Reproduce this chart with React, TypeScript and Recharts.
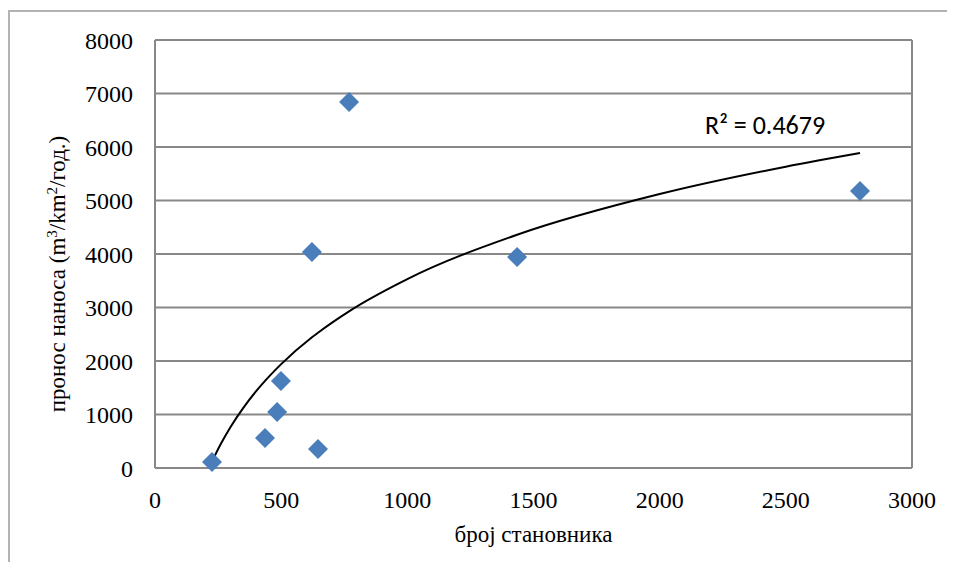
import { CartesianGrid, ComposedChart, Line, ReferenceDot, ReferenceLine, Scatter, XAxis, YAxis } from 'recharts';

// број становника vs пронос наноса
const population = [226, 436, 484, 499, 622, 646, 769, 1435, 2794];
const sediment = [112, 561, 1047, 1626, 4037, 355, 6841, 3944, 5178];
const xTicks = [0, 500, 1000, 1500, 2000, 2500, 3000];
const yTicks = [0, 1000, 2000, 3000, 4000, 5000, 6000, 7000, 8000];
const r2Label = 'R² = 0.4679';
// extra x positions where the fitted curve is evaluated so it draws smooth
const trendSampleX = [260, 300, 350, 400, 1000, 2000, 2500];

const points = population.map((x, i) => ({ x, y: sediment[i] }));

// logarithmic trendline, least squares on ln(x), like Excel does
const lnX = population.map((x) => Math.log(x));
const mx = lnX.reduce((a, b) => a + b, 0) / lnX.length;
const my = sediment.reduce((a, b) => a + b, 0) / sediment.length;
const slope =
  lnX.reduce((s, l, i) => s + (l - mx) * (sediment[i] - my), 0) /
  lnX.reduce((s, l) => s + (l - mx) * (l - mx), 0);
const intercept = my - slope * mx;
const trend = [...population, ...trendSampleX]
  .sort((a, b) => a - b)
  .map((x) => ({ x, t: slope * Math.log(x) + intercept }));

const serif = 'Liberation Serif';

const Diamond = (props: any) => {
  const { cx, cy } = props;
  const r = 10;
  return <path d={`M${cx},${cy - r}L${cx + r},${cy}L${cx},${cy + r}L${cx - r},${cy}Z`} fill="#4a7ebb" />;
};

const XTick = (p: any) => (
  <text x={p.x} y={p.y} dy="0.71em" textAnchor="middle" fontFamily={serif} fontSize={24} fill="#000">
    {p.payload.value}
  </text>
);

const YTick = (p: any) => (
  <text x={p.x} y={p.y} dy="0.355em" textAnchor="end" fontFamily={serif} fontSize={24} fill="#000">
    {p.payload.value}
  </text>
);

export default function App() {
  return (
    <div
      style={{
        marginTop: 2,
        borderLeft: '2px solid #b3b3b3',
        borderTop: '2px solid #b3b3b3',
        width: 937,
        fontFamily: serif,
      }}
    >
      <ComposedChart width={937} height={550} margin={{ top: 28, right: 35, bottom: 24, left: 65 }}>
        <CartesianGrid vertical={false} stroke="#888" strokeWidth={2} />
        <XAxis
          type="number"
          dataKey="x"
          domain={[0, 3000]}
          ticks={xTicks}
          height={70}
          axisLine={false}
          tickLine={false}
          tickSize={0}
          tickMargin={23}
          tick={XTick}
          label={(p: any) => {
            const vb = p.viewBox;
            return (
              <text x={vb.x + vb.width / 2} y={vb.y + 74} textAnchor="middle" fontFamily={serif} fontSize={23} fill="#000">
                број становника
              </text>
            );
          }}
        />
        <YAxis
          type="number"
          domain={[0, 8000]}
          ticks={yTicks}
          width={80}
          axisLine={{ stroke: '#888', strokeWidth: 2 }}
          tickLine={false}
          tickSize={0}
          tickMargin={22}
          tick={YTick}
          label={(p: any) => {
            const vb = p.viewBox;
            const lx = vb.x - 10;
            const ly = vb.y + vb.height / 2 + 20;
            return (
              <text x={lx} y={ly} transform={`rotate(-90, ${lx}, ${ly})`} textAnchor="middle" fontFamily={serif} fontSize={23} fill="#000">
                пронос наноса (m
                <tspan dy={-8} fontSize={15}>3</tspan>
                <tspan dy={8}>/km</tspan>
                <tspan dy={-8} fontSize={15}>2</tspan>
                <tspan dy={8}>/год.)</tspan>
              </text>
            );
          }}
        />
        <ReferenceLine x={3000} stroke="#888" strokeWidth={2} />
        <Scatter data={points} dataKey="y" shape={Diamond} isAnimationActive={false} />
        <Line data={trend} dataKey="t" type="monotone" stroke="#000" strokeWidth={2} dot={false} isAnimationActive={false} />
        <ReferenceDot
          x={2180}
          y={6400}
          r={0}
          shape={(p: any) => (
            <text x={p.cx} y={p.cy + 8} fontFamily="Carlito" fontSize={26} fill="#000">
              {r2Label}
            </text>
          )}
        />
      </ComposedChart>
    </div>
  );
}
